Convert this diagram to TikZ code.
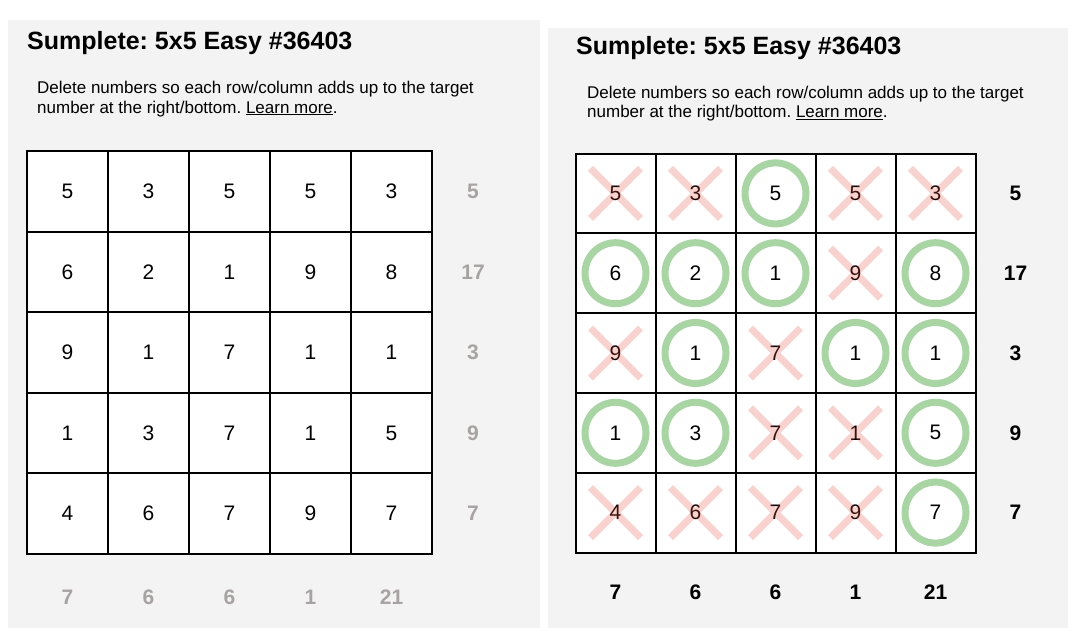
\documentclass[tikz,border=0pt]{standalone}
\usepackage{fontspec}
\setmainfont{Liberation Sans}
\usepackage{xcolor}
\frenchspacing
\definecolor{panelgray}{HTML}{F3F3F3}
\definecolor{targetgray}{HTML}{A8A3A3}
\definecolor{keepgreen}{HTML}{A9D4A3}
\definecolor{dropred}{HTML}{E74C3C}

\tikzset{
  title/.style={anchor=base west, inner sep=0pt, font=\bfseries\fontsize{25}{30}\selectfont},
  desc/.style={anchor=base west, inner sep=0pt, font=\fontsize{17}{20}\selectfont},
  cellL/.style={draw, line width=2pt, fill=white, minimum width=81pt, minimum height=80.6pt, inner sep=0pt, font=\fontsize{21}{24}\selectfont},
  cellR/.style={draw, line width=2pt, fill=white, minimum width=80pt, minimum height=79.8pt, inner sep=0pt, font=\fontsize{21}{24}\selectfont},
  target/.style={inner sep=0pt, font=\bfseries\fontsize{21}{24}\selectfont},
  keep/.style={draw=keepgreen, line width=7pt},
  drop/.style={draw=dropred, draw opacity=0.25, line width=7pt},
}

\begin{document}
\begin{tikzpicture}[x=1pt, y=-1pt]
\useasboundingbox (0,0) rectangle (1072,638);

% Panels
\fill[panelgray] (8,20) rectangle (540,628);
\fill[panelgray] (548,28) rectangle (1068,628);

% Titles and instructions
\node[title] (titleL) at (27,49) {Sumplete: 5x5 Easy \#36403};
\node[desc] (descL1) at (37,93.5) {Delete numbers so each row/column adds up to the target};
\node[desc] (descL2) at (37,113) {number at the right/bottom. \underline{Learn more}.};
\node[title] (titleR) at (576,54.5) {Sumplete: 5x5 Easy \#36403};
\node[desc] (descR1) at (587,98) {Delete numbers so each row/column adds up to the target};
\node[desc] (descR2) at (587,117.5) {number at the right/bottom. \underline{Learn more}.};

% Puzzle grids
\foreach \r/\row in {1/{5,3,5,5,3}, 2/{6,2,1,9,8}, 3/{9,1,7,1,1}, 4/{1,3,7,1,5}, 5/{4,6,7,9,7}} {
  \foreach \v [count=\c] in \row {
    \node[cellL] (L-\r-\c) at ({27+81*(\c-0.5)},{151+80.6*(\r-0.5)}) {\v};
    \node[cellR] (R-\r-\c) at ({575.5+80*(\c-0.5)},{153.5+79.8*(\r-0.5)}) {\v};
  }
}

% Row targets
\foreach \t [count=\r] in {5,17,3,9,7} {
  \node[target, text=targetgray] (rowL-\r) at (473,{151+80.6*(\r-0.5)}) {\t};
  \node[target] (rowR-\r) at (1015.5,{153.5+79.8*(\r-0.5)}) {\t};
}

% Column targets
\foreach \t [count=\c] in {7,6,6,1,21} {
  \node[target, text=targetgray] (colL-\c) at ({27+81*(\c-0.5)},597) {\t};
  \node[target] (colR-\c) at ({575.5+80*(\c-0.5)},592.5) {\t};
}

% Kept numbers
\foreach \p in {1-3,2-1,2-2,2-3,2-5,3-2,3-4,3-5,4-1,4-2,4-5,5-5}
  \draw[keep] (R-\p) circle[radius=30.5pt];

% Deleted numbers
\foreach \p in {1-1,1-2,1-4,1-5,2-4,3-1,3-3,4-3,4-4,5-1,5-2,5-3,5-4}
  \draw[drop] (R-\p) ++(-25,-25) -- ++(50,50) ++(0,-50) -- ++(-50,50);

\end{tikzpicture}
\end{document}
